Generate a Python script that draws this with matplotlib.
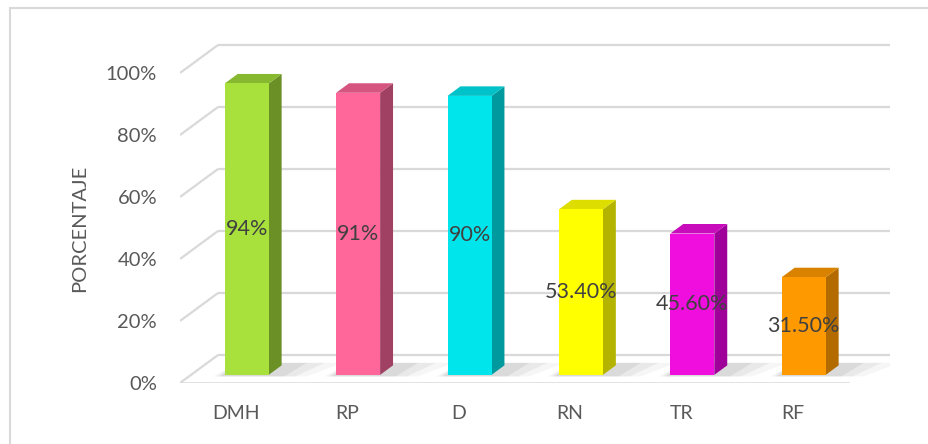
import matplotlib
matplotlib.use('Agg')
import matplotlib.pyplot as plt
from matplotlib.patches import Polygon, Rectangle

# ---- data ----
categories = ['DMH', 'RP', 'D', 'RN', 'TR', 'RF']
values = [94, 91, 90, 53.4, 45.6, 31.5]
value_labels = ['94%', '91%', '90%', '53.40%', '45.60%', '31.50%']
yticks = [0, 20, 40, 60, 80, 100]
ytick_labels = ['0%', '20%', '40%', '60%', '80%', '100%']
ylabel = 'PORCENTAJE'

front_colors = ['#A8E03C', '#FF6699', '#00E5EC', '#FFFF00', '#F00EDF', '#FF9900']
side_colors = ['#6B9126', '#A04062', '#00999E', '#B3B300', '#A0009A', '#B36B00']
top_colors = ['#86B830', '#D55480', '#00C2C8', '#DDDD00', '#C80BBB', '#D98200']

FONT = ['Lato', 'DejaVu Sans']
plt.rcParams['font.family'] = FONT

W, H = 929, 444
fig = plt.figure(figsize=(W / 100, H / 100), dpi=100)

# layout (pixels)
px_x0, px_x1 = 180, 890
px_y0, px_y1 = 383, 40
cat_px = 111.4
k = 3.1
ax = fig.add_axes([px_x0 / W, 1 - px_y0 / H, (px_x1 - px_x0) / W, (px_y0 - px_y1) / H])
ax.set_xlim(0, (px_x1 - px_x0) / cat_px)
ax.set_ylim(0, (px_y0 - px_y1) / k)
DX = 38 / cat_px
DY = 28 / k
n = len(categories)
grid_c = '#D9D9D9'

# walls / grid
for t in yticks:
    ax.plot([0, DX], [t, t + DY], color=grid_c, lw=1.6, solid_capstyle='butt', zorder=1)
    ax.plot([DX, n + DX + 0.03], [t + DY, t + DY], color=grid_c, lw=1.6, solid_capstyle='butt', zorder=1)
ax.plot([0, n], [0, 0], color=grid_c, lw=1.8, zorder=1)

# bars
d0, d1 = 0.29, 0.63
bw = 44 / cat_px
for i, v in enumerate(values):
    c = i + 0.5
    xl = c - bw / 2 + d0 * DX
    xr = c + bw / 2 + d0 * DX
    yb = d0 * DY
    yt = v + d0 * DY
    ddx = (d1 - d0) * DX
    ddy = (d1 - d0) * DY
    # shadow on floor
    for s, a in [(0.34, 0.06), (0.24, 0.09), (0.14, 0.12)]:
        ax.add_patch(Polygon([(xl - s * 0.3, yb - 0.5), (xr + s, yb - 0.5),
                              (xr + ddx + s * 1.6, yb + ddy + 0.8), (xl + ddx, yb + ddy + 0.8)],
                             closed=True, facecolor='#707070', alpha=a, edgecolor='none', zorder=2))
    # side
    ax.add_patch(Polygon([(xr, yb), (xr + ddx, yb + ddy), (xr + ddx, yt + ddy), (xr, yt)],
                         closed=True, facecolor=side_colors[i], edgecolor='none', zorder=3))
    # top
    ax.add_patch(Polygon([(xl, yt), (xr, yt), (xr + ddx, yt + ddy), (xl + ddx, yt + ddy)],
                         closed=True, facecolor=top_colors[i], edgecolor='none', zorder=3))
    # front
    ax.add_patch(Rectangle((xl, yb), xr - xl, v, facecolor=front_colors[i], edgecolor='none', zorder=4))
    # data label
    ax.text((xl + xr) / 2, yb + v / 2, value_labels[i], ha='center', va='center',
            fontsize=15.5, color='#404040', zorder=6)

# axes decoration
for sp in ax.spines.values():
    sp.set_visible(False)
ax.set_yticks(yticks)
ax.set_yticklabels(ytick_labels, fontsize=14.5, color='#595959')
ax.set_xticks([i + 0.5 for i in range(n)])
ax.set_xticklabels(categories, fontsize=14, color='#595959')
ax.tick_params(axis='y', length=0, pad=16.5)
ax.tick_params(axis='x', length=0, pad=16)

fig.text(80 / W, 1 - 228 / H, ylabel, rotation=90, ha='center', va='center',
         fontsize=14.5, color='#595959')

# chart border
fig.patches.append(Rectangle((10 / W, -0.1), 1.2, 1 - 8 / H + 0.1, transform=fig.transFigure,
                             fill=False, edgecolor='#D9D9D9', lw=1.5))

fig.savefig('out.png', dpi=100)
